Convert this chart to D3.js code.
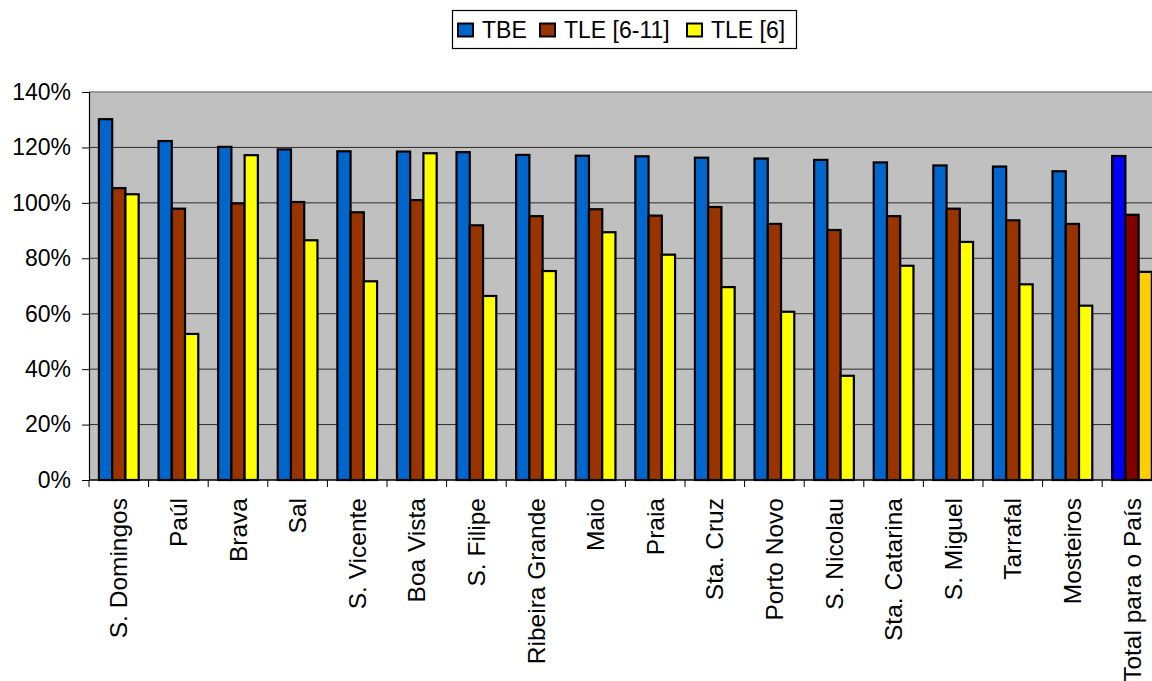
<!DOCTYPE html>
<html>
<head>
<meta charset="utf-8">
<script src="https://cdn.jsdelivr.net/npm/d3@7"></script>
<style>
  html, body { margin: 0; padding: 0; background: #fff; }
  svg { display: block; }
  text { font-family: "Liberation Sans", Arial, sans-serif; fill: #000; }
</style>
</head>
<body>
<svg id="chart" width="1152" height="681"></svg>
<script>
// Municipalities, in chart order (last one is the national total)
const categories = [
  "S. Domingos", "Paúl", "Brava", "Sal", "S. Vicente", "Boa Vista", "S. Filipe",
  "Ribeira Grande", "Maio", "Praia", "Sta. Cruz", "Porto Novo", "S. Nicolau",
  "Sta. Catarina", "S. Miguel", "Tarrafal", "Mosteiros", "Total para o País"
];
const seriesNames = ["TBE", "TLE [6-11]", "TLE [6]"];

// Rates in percent
const tbe   = [130.2, 122.3, 120.2, 119.3, 118.6, 118.5, 118.3, 117.3, 117.0, 116.8, 116.3, 116.0, 115.5, 114.6, 113.5, 113.1, 111.4, 116.9];
const tle611 = [105.3, 97.9, 99.8, 100.3, 96.6, 101.0, 91.9, 95.2, 97.7, 95.4, 98.5, 92.4, 90.2, 95.2, 97.9, 93.7, 92.4, 95.7];
const tle6  = [103.1, 52.7, 117.2, 86.5, 71.7, 117.9, 66.4, 75.4, 89.4, 81.3, 69.6, 60.7, 37.6, 77.3, 85.9, 70.6, 62.9, 75.1];

const yTicks = [0, 20, 40, 60, 80, 100, 120, 140];

const seriesValues = [tbe, tle611, tle6];
const colors = ["#0066CC", "#993300", "#FFFF00"];
const totalColors = ["#0000FF", "#800000", "#FFCC00"];

const svg = d3.select("#chart");
const plot = { left: 89, top: 92, bottom: 480, step: 59.6 };
const plotRight = plot.left + plot.step * categories.length;

const x0 = d3.scaleBand().domain(categories).range([plot.left, plotRight]).padding(0);
const bw = x0.bandwidth() / 4.5;           // gap = 1.5 bar widths
const x1 = d3.scaleBand().domain(seriesNames)
  .range([bw * 0.75, bw * 3.75]).padding(0);
const y = d3.scaleLinear().domain([0, 140]).range([plot.bottom, plot.top]);

// plot background
svg.append("rect")
  .attr("x", plot.left).attr("y", plot.top)
  .attr("width", plotRight - plot.left).attr("height", plot.bottom - plot.top)
  .attr("fill", "#C0C0C0");

// gridlines
svg.append("g").selectAll("line")
  .data(yTicks.filter(t => t > 0 && t < 140))
  .join("line")
  .attr("x1", plot.left).attr("x2", plotRight)
  .attr("y1", d => y(d)).attr("y2", d => y(d))
  .attr("stroke", "#2b2b2b").attr("stroke-width", 1);

// top border of plot area
svg.append("line")
  .attr("x1", plot.left).attr("x2", plotRight)
  .attr("y1", y(140)).attr("y2", y(140))
  .attr("stroke", "#808080").attr("stroke-width", 1.5);

// bars
const groups = svg.append("g").selectAll("g")
  .data(categories)
  .join("g")
  .attr("transform", d => `translate(${x0(d)},0)`);

groups.selectAll("rect")
  .data((c, i) => seriesNames.map((s, k) => ({
    s, k, v: seriesValues[k][i], total: i === categories.length - 1
  })))
  .join("rect")
  .attr("x", d => x1(d.s))
  .attr("width", x1.bandwidth())
  .attr("y", d => y(d.v))
  .attr("height", d => y(0) - y(d.v))
  .attr("fill", d => d.total ? totalColors[d.k] : colors[d.k])
  .attr("stroke", "#000")
  .attr("stroke-width", 2.2);

// y axis
const yAxis = d3.axisLeft(y).tickValues(yTicks).tickFormat(d => d + "%")
  .tickSize(7).tickPadding(11);
const gy = svg.append("g").attr("transform", `translate(${plot.left},0)`).call(yAxis);
gy.select(".domain").attr("stroke", "#000").attr("stroke-width", 1.2);
gy.selectAll(".tick line").attr("stroke", "#000");
gy.selectAll("text").style("font-size", "23px").style("font-family", "'Liberation Sans', Arial, sans-serif").attr("fill", "#000");

// x axis: ticks at category boundaries
svg.append("line")
  .attr("x1", plot.left).attr("x2", plotRight)
  .attr("y1", plot.bottom).attr("y2", plot.bottom)
  .attr("stroke", "#000").attr("stroke-width", 1.5);
svg.append("g").selectAll("line")
  .data(categories)
  .join("line")
  .attr("x1", d => x0(d)).attr("x2", d => x0(d))
  .attr("y1", plot.bottom).attr("y2", plot.bottom + 7)
  .attr("stroke", "#000");

svg.append("g").selectAll("text")
  .data(categories)
  .join("text")
  .attr("transform", d => `translate(${x0(d) + x0.bandwidth() / 2},${plot.bottom + 18}) rotate(-90)`)
  .attr("text-anchor", "end")
  .attr("dy", "0.35em")
  .style("font-size", "24.5px")
  .text(d => d);

// legend
const legend = svg.append("g");
legend.append("rect")
  .attr("x", 452.5).attr("y", 10.5).attr("width", 344).attr("height", 38)
  .attr("fill", "#fff").attr("stroke", "#000").attr("stroke-width", 1.2);
const legendX = [458, 540, 687];
seriesNames.forEach((s, k) => {
  legend.append("rect")
    .attr("x", legendX[k]).attr("y", 23.5).attr("width", 15).attr("height", 13)
    .attr("fill", colors[k]).attr("stroke", "#000").attr("stroke-width", 2);
  legend.append("text")
    .attr("x", legendX[k] + 24).attr("y", 38)
    .style("font-size", "23px")
    .text(s);
});
</script>
</body>
</html>
